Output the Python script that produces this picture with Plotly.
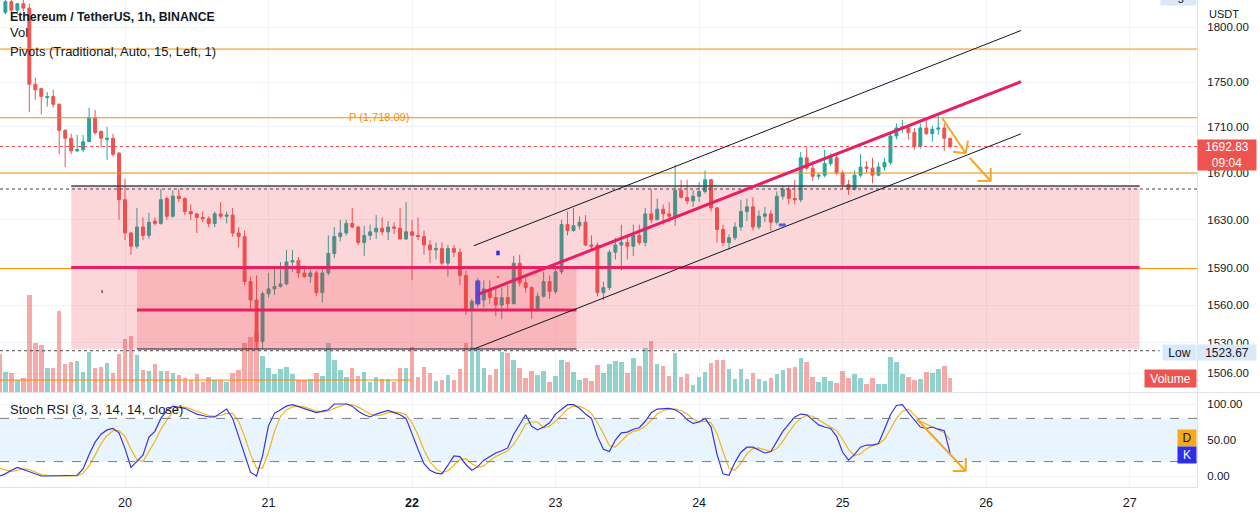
import plotly.graph_objects as go
from datetime import datetime, timedelta

# ---------------- data ----------------
first_bar = datetime(2021, 2, 19, 3, 0)   # hourly bars

opens = [
    1838, 1814, 1824, 1816, 1822, 1818, 1748, 1744, 1736, 1737,
    1730, 1707, 1700, 1689, 1690, 1697, 1718, 1706, 1699, 1700,
    1687, 1647, 1619, 1608, 1624, 1617, 1629, 1627, 1648, 1633,
    1650, 1648, 1637, 1635, 1632, 1631, 1627, 1635, 1633, 1634,
    1619, 1616, 1579, 1564, 1531, 1569, 1573, 1575, 1577, 1595,
    1596, 1586, 1583, 1586, 1570, 1586, 1602, 1616, 1619, 1627,
    1624, 1611, 1617, 1620, 1623, 1620, 1624, 1623, 1614, 1620,
    1617, 1616, 1609, 1605, 1606, 1594, 1606, 1603, 1584, 1557,
    1562, 1564, 1572, 1566, 1560, 1566, 1561, 1594, 1578, 1574,
    1557, 1567, 1579, 1571, 1587, 1626, 1621, 1625, 1628, 1609,
    1609, 1570, 1574, 1603, 1609, 1611, 1608, 1617, 1611, 1635,
    1630, 1639, 1635, 1633, 1655, 1649, 1646, 1650, 1654, 1664,
    1640, 1622, 1611, 1615, 1624, 1637, 1641, 1624, 1633, 1635,
    1628, 1650, 1656, 1648, 1647, 1683, 1674, 1667, 1668, 1678,
    1683, 1670, 1660, 1656, 1668, 1675, 1674, 1668, 1675, 1679,
    1702, 1709, 1709, 1705, 1693, 1709, 1704, 1708, 1709, 1700,
]
highs = [
    1845, 1832, 1830, 1823, 1826, 1822, 1754, 1745, 1741, 1743,
    1731, 1708, 1704, 1703, 1703, 1727, 1725, 1707, 1710, 1704,
    1688, 1665, 1620, 1640, 1632, 1636, 1632, 1656, 1650, 1655,
    1656, 1649, 1643, 1636, 1637, 1633, 1637, 1645, 1637, 1640,
    1624, 1621, 1583, 1584, 1571, 1586, 1590, 1595, 1605, 1605,
    1599, 1592, 1589, 1588, 1589, 1617, 1624, 1630, 1630, 1640,
    1625, 1625, 1626, 1634, 1632, 1629, 1628, 1640, 1645, 1630,
    1632, 1621, 1613, 1611, 1611, 1609, 1609, 1606, 1588, 1565,
    1582, 1580, 1580, 1574, 1574, 1576, 1600, 1601, 1582, 1575,
    1570, 1587, 1584, 1591, 1630, 1637, 1640, 1633, 1634, 1617,
    1611, 1579, 1605, 1615, 1626, 1617, 1626, 1626, 1640, 1656,
    1648, 1643, 1645, 1677, 1664, 1664, 1655, 1662, 1672, 1665,
    1641, 1626, 1618, 1628, 1647, 1648, 1649, 1638, 1641, 1638,
    1654, 1659, 1659, 1664, 1688, 1692, 1680, 1670, 1690, 1687,
    1687, 1672, 1664, 1672, 1686, 1680, 1683, 1679, 1683, 1705,
    1713, 1716, 1712, 1709, 1713, 1716, 1711, 1721, 1713, 1700,
]
lows = [
    1820, 1812, 1813, 1812, 1815, 1723, 1734, 1721, 1728, 1727,
    1686, 1675, 1686, 1688, 1688, 1697, 1703, 1692, 1681, 1684,
    1630, 1613, 1601, 1606, 1613, 1614, 1625, 1626, 1630, 1632,
    1645, 1634, 1630, 1619, 1628, 1624, 1624, 1631, 1627, 1616,
    1607, 1576, 1556, 1526, 1525, 1566, 1568, 1574, 1576, 1587,
    1582, 1582, 1578, 1567, 1562, 1584, 1598, 1612, 1617, 1623,
    1609, 1600, 1613, 1614, 1617, 1613, 1618, 1614, 1613, 1580,
    1613, 1601, 1594, 1597, 1592, 1583, 1599, 1576, 1552, 1524,
    1558, 1558, 1561, 1551, 1549, 1557, 1561, 1575, 1570, 1549,
    1555, 1566, 1565, 1569, 1585, 1617, 1620, 1622, 1608, 1604,
    1567, 1564, 1572, 1597, 1588, 1597, 1600, 1609, 1608, 1627,
    1630, 1626, 1628, 1625, 1648, 1643, 1641, 1645, 1652, 1637,
    1611, 1608, 1605, 1613, 1621, 1629, 1621, 1622, 1628, 1621,
    1626, 1647, 1643, 1643, 1645, 1672, 1663, 1664, 1666, 1676,
    1668, 1656, 1651, 1655, 1666, 1670, 1661, 1667, 1672, 1677,
    1699, 1705, 1699, 1690, 1691, 1703, 1697, 1703, 1689, 1691,
]
closes = [
    1826, 1824, 1816, 1822, 1818, 1748, 1743, 1737, 1737, 1730,
    1707, 1700, 1689, 1690, 1697, 1718, 1705, 1700, 1700, 1686,
    1647, 1619, 1608, 1624, 1617, 1628, 1627, 1647, 1633, 1650,
    1648, 1637, 1635, 1632, 1631, 1627, 1635, 1633, 1634, 1619,
    1616, 1579, 1564, 1531, 1569, 1573, 1575, 1577, 1595, 1596,
    1586, 1583, 1586, 1570, 1586, 1602, 1616, 1619, 1627, 1624,
    1611, 1617, 1620, 1623, 1620, 1624, 1623, 1614, 1620, 1617,
    1616, 1609, 1605, 1606, 1594, 1606, 1603, 1584, 1557, 1563,
    1578, 1573, 1566, 1560, 1566, 1561, 1594, 1578, 1574, 1557,
    1567, 1579, 1571, 1587, 1626, 1621, 1625, 1628, 1609, 1608,
    1570, 1574, 1603, 1609, 1611, 1608, 1617, 1611, 1635, 1630,
    1639, 1635, 1633, 1655, 1649, 1646, 1650, 1654, 1664, 1640,
    1622, 1611, 1615, 1624, 1637, 1641, 1624, 1633, 1635, 1628,
    1650, 1656, 1648, 1647, 1683, 1674, 1667, 1668, 1678, 1683,
    1670, 1660, 1656, 1668, 1675, 1674, 1668, 1675, 1679, 1702,
    1709, 1710, 1705, 1693, 1709, 1704, 1708, 1709, 1700, 1692.83,
]
volume_k = [
    38, 20, 19, 12, 14, 97, 49, 47, 24, 24,
    81, 28, 30, 31, 20, 40, 24, 25, 29, 19,
    38, 53, 56, 37, 22, 21, 28, 21, 21, 19,
    17, 14, 12, 18, 10, 15, 12, 12, 10, 19,
    22, 49, 55, 60, 36, 24, 18, 23, 25, 18,
    12, 12, 13, 19, 16, 49, 32, 22, 15, 24,
    16, 20, 10, 15, 13, 13, 10, 24, 24, 45,
    15, 25, 19, 11, 12, 17, 12, 23, 49, 45,
    43, 24, 17, 23, 40, 39, 32, 24, 14, 21,
    17, 21, 10, 16, 32, 30, 20, 12, 14, 11,
    27, 19, 28, 31, 30, 19, 34, 26, 44, 51,
    28, 26, 16, 39, 15, 18, 7, 15, 20, 29,
    32, 32, 23, 13, 23, 13, 19, 13, 11, 14,
    18, 22, 24, 25, 34, 30, 15, 10, 15, 11,
    9, 21, 14, 18, 14, 8, 14, 8, 8, 35,
    30, 18, 15, 12, 13, 20, 19, 23, 26, 14,
]
stoch_k = [
    0, 3, 8, 12, 9, 6, 2, 0, 0, 0,
    0, 0, 0, 1, 10, 30, 47, 58, 64, 66,
    60, 38, 12, 20, 29, 54, 62, 80, 91, 97,
    96, 94, 90, 86, 84, 82, 82, 87, 93, 80,
    55, 29, 5, 0, 28, 70, 87, 92, 97, 99,
    96, 93, 90, 88, 90, 92, 100, 100, 100, 97,
    90, 85, 82, 86, 88, 91, 88, 85, 80, 57,
    37, 17, 8, 4, 3, 15, 28, 27, 16, 8,
    13, 22, 27, 32, 35, 39, 58, 72, 85, 69,
    64, 68, 74, 86, 93, 99, 99, 94, 86, 80,
    55, 37, 34, 50, 60, 61, 65, 67, 76, 88,
    93, 93, 94, 92, 87, 78, 73, 75, 80, 68,
    30, 3, 1, 19, 33, 40, 40, 36, 32, 34,
    49, 62, 72, 82, 86, 85, 78, 71, 68, 66,
    55, 33, 22, 30, 40, 43, 43, 45, 65, 85,
    98, 99, 88, 78, 68, 66, 68, 65, 63, 31,
]
stoch_d = [
    11, 9, 6, 8, 10, 9, 6, 2, 1, 0,
    0, 0, 0, 0, 4, 14, 29, 45, 56, 63,
    63, 55, 37, 23, 20, 34, 48, 65, 78, 89,
    95, 96, 93, 90, 87, 84, 83, 84, 87, 87,
    76, 55, 30, 11, 11, 33, 62, 83, 92, 96,
    97, 96, 93, 90, 89, 90, 94, 97, 100, 99,
    96, 91, 86, 84, 85, 88, 89, 88, 85, 74,
    57, 36, 20, 10, 5, 7, 15, 23, 24, 17,
    12, 14, 21, 27, 31, 35, 44, 57, 72, 75,
    75, 67, 69, 76, 84, 93, 97, 97, 93, 87,
    74, 59, 42, 40, 48, 57, 62, 64, 69, 77,
    86, 91, 93, 93, 91, 86, 79, 75, 76, 74,
    59, 34, 11, 8, 18, 31, 38, 39, 36, 34,
    38, 48, 61, 72, 80, 84, 83, 78, 72, 68,
    63, 51, 37, 28, 31, 38, 42, 44, 51, 65,
    80, 90, 93, 85, 76, 72, 68, 65, 60, 50,
]

day_ticks = ["2021-02-20", "2021-02-21", "2021-02-22", "2021-02-23",
             "2021-02-24", "2021-02-25", "2021-02-26", "2021-02-27"]
day_labels = ["20", "21", "<b>22</b>", "23", "24", "25", "26", "27"]
price_ticks = [1800, 1750, 1710, 1670, 1630, 1590, 1560, 1530, 1506]
stoch_ticks = [0, 50, 100]

# pivot levels and drawings (price / time anchors)
pivot_r1 = 1780.0
pivot_p = 1718.09
pivot_s1 = 1669.8
pivot_s2 = 1589.6
pivot_prev = 1500.8
last_price = 1692.83
low_price = 1523.67

times = [first_bar + timedelta(hours=i) for i in range(len(closes))]

# ---------------- styling / layout helpers ----------------
FONT = "Liberation Sans, Arial, sans-serif"
TXT = "#131722"
UP = "#26a69a"
DN = "#ef5350"
ORANGE = "#fb8c00"
ARROW = "#f5a623"
CRIMSON = "#e91e63"
KCOL = "#3535e0"
DCOL = "#f2b51d"
PINK = "rgba(242,54,69,0.2)"

PLOT_W, PLOT_H = 1197, 487


def PX(x):
    return x / PLOT_W


def PY(y):
    return (PLOT_H - y) / PLOT_H


vol_colors = ["rgba(38,166,154,0.5)" if c >= o else "rgba(239,83,80,0.5)"
              for o, c in zip(opens, closes)]

fig = go.Figure()
fig.add_trace(go.Bar(x=times, y=volume_k, marker_color=vol_colors, marker_line_width=0,
                     width=0.75 * 3600000, xaxis="x", yaxis="y", hoverinfo="skip"))
fig.add_trace(go.Candlestick(
    x=times, open=opens, high=highs, low=lows, close=closes, xaxis="x", yaxis="y3",
    increasing=dict(line=dict(color=UP, width=1), fillcolor=UP),
    decreasing=dict(line=dict(color=DN, width=1), fillcolor=DN),
    whiskerwidth=0, hoverinfo="skip"))
fig.add_trace(go.Scatter(x=times, y=stoch_d, mode="lines", line=dict(color=DCOL, width=1.2),
                         xaxis="x2", yaxis="y2", hoverinfo="skip"))
fig.add_trace(go.Scatter(x=times, y=stoch_k, mode="lines", line=dict(color=KCOL, width=1.2),
                         xaxis="x2", yaxis="y2", hoverinfo="skip"))

shapes = []


def hline(y, x0, x1, color, width=1, dash="solid", yref="y3", xref="x", layer="above"):
    shapes.append(dict(type="line", xref=xref, yref=yref, x0=x0, x1=x1, y0=y, y1=y,
                       line=dict(color=color, width=width, dash=dash), layer=layer))


def seg(x0, y0, x1, y1, color, width=1, yref="y3", xref="x"):
    shapes.append(dict(type="line", xref=xref, yref=yref, x0=x0, x1=x1, y0=y0, y1=y1,
                       line=dict(color=color, width=width), layer="above"))


# stoch band + bounds
shapes.append(dict(type="rect", xref="paper", yref="y2", x0=0, x1=1, y0=20, y1=80,
                   fillcolor="rgba(33,150,243,0.1)", line=dict(width=0), layer="below"))
hline(80, 0, 1, "#787b86", 1, "dash", yref="y2", xref="paper")
hline(20, 0, 1, "#787b86", 1, "dash", yref="y2", xref="paper")

# big zone rectangle and inner darker rectangle
shapes.append(dict(type="rect", xref="x", yref="y3", x0="2021-02-19 15:00", x1="2021-02-27 01:40",
                   y0=1525.0, y1=1658.7, fillcolor=PINK, line=dict(width=0), layer="above"))
shapes.append(dict(type="rect", xref="x", yref="y3", x0="2021-02-20 02:00", x1="2021-02-23 03:30",
                   y0=1525.0, y1=1590.0, fillcolor=PINK, line=dict(width=0), layer="above"))
# channel fill
shapes.append(dict(type="path", xref="x", yref="y3",
                   path="M 2021-02-22 10:20,1608.4 L 2021-02-26 05:50,1797.1 "
                        "L 2021-02-26 05:50,1703.9 L 2021-02-22 10:20,1525.0 Z",
                   fillcolor=PINK, line=dict(width=0), layer="above"))

# pivot lines
hline(pivot_r1, 0, 1, ORANGE, 1, xref="paper")
hline(pivot_p, 0, 1, ORANGE, 1, xref="paper")
hline(pivot_s1, 0, 1, ORANGE, 1, xref="paper")
hline(pivot_s2, 0, 1, ORANGE, 1, xref="paper")
hline(pivot_prev, "2021-02-19 03:06", "2021-02-22 00:00", ORANGE, 1)

# price line & low line & dotted level
hline(last_price, 0, 1, DN, 1, "dot", xref="paper")
hline(low_price, "2021-02-19 03:06", "2021-02-27 05:00", "#434651", 1, "dot")
hline(1656.1, 0, 1, "#434651", 1, "dot", xref="paper")

# black horizontal borders
hline(1658.7, "2021-02-19 15:00", "2021-02-27 01:40", "#434651", 1.5)
hline(1590.0, "2021-02-20 02:00", "2021-02-23 03:30", "#131722", 1)
hline(1525.0, "2021-02-20 02:00", "2021-02-23 03:30", "#131722", 1)

# crimson levels
hline(1590.4, "2021-02-19 15:00", "2021-02-27 01:40", CRIMSON, 3)
hline(1556.0, "2021-02-20 02:00", "2021-02-23 03:30", CRIMSON, 3)

# channel lines
seg("2021-02-22 10:20", 1608.4, "2021-02-26 05:50", 1797.1, "#131722", 1)
seg("2021-02-22 10:20", 1525.0, "2021-02-26 05:50", 1703.9, "#131722", 1)
seg("2021-02-22 10:50", 1568.1, "2021-02-26 05:50", 1750.3, CRIMSON, 3)

# small markers
shapes.append(dict(type="rect", xref="x", yref="y3", x0="2021-02-22 10:40", x1="2021-02-22 11:20",
                   y0=1560.8, y1=1579.5, fillcolor="rgba(80,60,230,0.75)",
                   line=dict(color="#5a3cf0", width=1), layer="above"))
shapes.append(dict(type="rect", xref="x", yref="y3", x0="2021-02-22 14:05", x1="2021-02-22 14:40",
                   y0=1600.5, y1=1604.3, fillcolor="#3030e0", line=dict(width=0), layer="above"))
seg("2021-02-22 14:10", 1582.7, "2021-02-22 14:35", 1582.7, "#ef5350", 1.5)
seg("2021-02-24 13:20", 1625.7, "2021-02-24 14:30", 1625.7, "#4a5ef0", 3)
seg("2021-02-19 20:10", 1572.0, "2021-02-19 20:10", 1569.7, "#131722", 1)

# orange arrows (main)
seg("2021-02-25 16:41", 1717.6, "2021-02-25 20:35", 1686.9, ARROW, 2)
seg("2021-02-25 18:28", 1688.3, "2021-02-25 20:35", 1686.9, ARROW, 2)
seg("2021-02-25 20:58", 1697.9, "2021-02-25 20:35", 1686.9, ARROW, 2)
seg("2021-02-25 21:16", 1682.8, "2021-02-26 00:46", 1663.0, ARROW, 2)
seg("2021-02-25 22:35", 1663.0, "2021-02-26 00:46", 1663.0, ARROW, 2)
seg("2021-02-26 00:46", 1674.1, "2021-02-26 00:46", 1663.0, ARROW, 2)
# orange arrow (stoch)
seg("2021-02-25 12:24", 79.2, "2021-02-25 20:36", 6.9, ARROW, 2, yref="y2", xref="x2")
seg("2021-02-25 18:25", 6.9, "2021-02-25 20:36", 6.9, ARROW, 2, yref="y2", xref="x2")
seg("2021-02-25 20:36", 25.0, "2021-02-25 20:36", 6.9, ARROW, 2, yref="y2", xref="x2")

# pane separators
shapes.append(dict(type="line", xref="paper", yref="paper", x0=0, x1=1260 / PLOT_W,
                   y0=PY(392.5), y1=PY(392.5), line=dict(color="#e0e3eb", width=1)))

annotations = []


def label(x, y, text, size=13, color=TXT, xanchor="left", bg=None, w=None, h=None, bold=False):
    a = dict(xref="paper", yref="paper", x=PX(x), y=PY(y), text=("<b>%s</b>" % text) if bold else text,
             showarrow=False, xanchor=xanchor, yanchor="middle",
             font=dict(family=FONT, size=size, color=color))
    if bg:
        a.update(bgcolor=bg, borderpad=0)
    if w:
        a.update(width=w, align="center")
    if h:
        a.update(height=h, valign="middle")
    annotations.append(a)


label(8, 17, "Ethereum / TetherUS, 1h, BINANCE", size=12.3, bold=True)
label(8, 33, "Vol", size=13)
label(8, 51, "Pivots (Traditional, Auto, 15, Left, 1)", size=13)
label(8, 410, "Stoch RSI (3, 3, 14, 14, close)", size=13)
label(411, 117, "P (1,718.09)", size=11, color=ORANGE, xanchor="right")

label(1207, 14, "USDT", size=11)
label(1160, -4, "High", size=12, bg="#dbe8f8", w=35, h=18)
label(1197, 154.5, "1692.83<br>09:04", size=12, color="white", bg=DN, w=58, h=30)
label(1162, 352, "Low", size=12, bg="#dbe8f8", w=33, h=15)
label(1197, 352, "1523.67", size=12, bg="#dbe8f8", w=58, h=15)
label(1144, 378.5, "Volume", size=12, color="white", bg=DN, w=51, h=17)
label(1177, 438, "D", size=12, bg="#f7a81b", w=18, h=16)
label(1177, 455, "K", size=12, color="white", bg="#2e2ee8", w=18, h=16)

x_range = ["2021-02-19 03:05:49", "2021-02-27 11:15:50"]
axis_font = dict(family=FONT, size=11.5, color=TXT)

fig.update_layout(
    width=1260, height=513,
    margin=dict(l=0, r=63, t=0, b=26),
    paper_bgcolor="white", plot_bgcolor="white",
    showlegend=False, hovermode=False,
    bargap=0,
    shapes=shapes, annotations=annotations,
    xaxis=dict(domain=[0, 1], anchor="y", type="date", range=x_range,
               tickvals=day_ticks, showticklabels=False, showgrid=True, gridcolor="#f0f3fa",
               zeroline=False, rangeslider=dict(visible=False), showline=False),
    xaxis2=dict(domain=[0, 1], anchor="y2", type="date", range=x_range, matches="x",
                tickvals=day_ticks, ticktext=day_labels, showgrid=True, gridcolor="#f0f3fa",
                zeroline=False, ticks="outside", ticklen=4, tickcolor="rgba(0,0,0,0)",
                tickfont=dict(family=FONT, size=12.5, color=TXT),
                showline=True, linecolor="#e0e3eb"),
    yaxis=dict(domain=[PY(392), 1], range=[0, 392], visible=False, fixedrange=True),
    yaxis3=dict(overlaying="y", anchor="x", side="right", type="log",
                range=[3.173649, 3.261403], tickvals=price_ticks,
                ticktext=["%.2f" % v for v in price_ticks],
                showgrid=True, gridcolor="#f0f3fa", zeroline=False,
                ticks="outside", ticklen=7, tickcolor="rgba(0,0,0,0)",
                tickfont=axis_font, showline=True, linecolor="#e0e3eb"),
    yaxis2=dict(domain=[0, PY(393)], anchor="x2", side="right", range=[-15.28, 115.28],
                tickvals=stoch_ticks, ticktext=["%.2f" % v for v in stoch_ticks],
                showgrid=True, gridcolor="#f0f3fa", zeroline=False,
                ticks="outside", ticklen=7, tickcolor="rgba(0,0,0,0)",
                tickfont=axis_font, showline=True, linecolor="#e0e3eb"),
)

fig.write_html("out.html", config={"displayModeBar": False},
               post_script="document.body.style.margin='0';document.body.style.overflow='hidden';")
